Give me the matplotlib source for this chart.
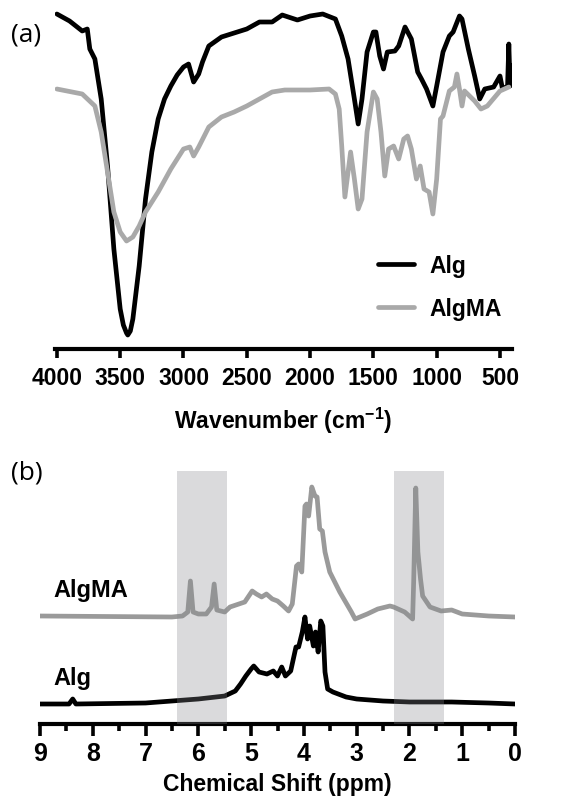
import matplotlib
matplotlib.use("Agg")
import matplotlib.pyplot as plt
import numpy as np

plt.rcParams['font.family'] = ['Liberation Sans', 'DejaVu Sans']
plt.rcParams['mathtext.fontset'] = 'custom'
plt.rcParams['mathtext.bf'] = 'Liberation Sans:bold'
plt.rcParams['mathtext.rm'] = 'Liberation Sans:bold'

# ---- (a) FTIR, transmittance in arbitrary units ----
wn_alg = [4000, 3900, 3800, 3760, 3740, 3700, 3650, 3600, 3550, 3500, 3475, 3450, 3440,
          3420, 3400, 3350, 3300, 3250, 3200, 3150, 3100, 3050, 3000, 2960, 2920, 2880,
          2850, 2800, 2700, 2500, 2400, 2300, 2220, 2100, 2000, 1900, 1800, 1750, 1700,
          1650, 1620, 1590, 1550, 1500, 1480, 1450, 1420, 1390, 1330, 1300, 1250, 1200,
          1150, 1120, 1080, 1030, 1000, 950, 900, 870, 820, 800, 750, 700, 660, 620,
          550, 500, 480, 440, 430, 420, 405]
t_alg = [335, 328, 318, 320, 300, 290, 250, 183, 100, 40, 24, 16, 14,
         18, 30, 83, 150, 197, 230, 250, 263, 274, 282, 285, 267, 275,
         287, 303, 312, 320, 327, 327, 334, 329, 333, 335, 330, 313, 290,
         250, 225, 250, 297, 317, 317, 293, 280, 297, 298, 303, 322, 310,
         277, 270, 260, 243, 263, 297, 313, 317, 333, 330, 300, 273, 250, 260,
         262, 273, 260, 263, 305, 263, 283]

wn_algma = [4000, 3800, 3700, 3650, 3600, 3550, 3500, 3450, 3400, 3350, 3300, 3200, 3100,
            3000, 2950, 2920, 2880, 2800, 2700, 2600, 2500, 2400, 2300, 2200, 2000, 1850,
            1800, 1770, 1750, 1725, 1700, 1680, 1650, 1620, 1590, 1550, 1500, 1470, 1440,
            1410, 1380, 1340, 1300, 1260, 1230, 1200, 1160, 1130, 1100, 1060, 1030, 1000,
            970, 950, 900, 860, 840, 820, 800, 780, 700, 650, 600, 500, 430]
t_algma = [260, 255, 243, 217, 177, 137, 117, 108, 112, 123, 137, 157, 180,
           200, 202, 193, 202, 222, 232, 237, 243, 250, 257, 259, 259, 260,
           255, 240, 203, 152, 177, 197, 170, 140, 150, 217, 257, 250, 217,
           173, 200, 203, 190, 210, 213, 200, 170, 183, 160, 157, 135, 170,
           230, 233, 258, 262, 275, 260, 243, 258, 248, 240, 243, 258, 262]

# ---- (b) 1H NMR, intensity in arbitrary units ----
ppm_algma = [9.0, 6.5, 6.3, 6.2, 6.15, 6.1, 6.0, 5.85, 5.75, 5.7, 5.65, 5.5, 5.4, 5.12,
             4.98, 4.9, 4.8, 4.71, 4.6, 4.5, 4.39, 4.29, 4.22, 4.14, 4.1, 4.04, 3.98,
             3.95, 3.91, 3.85, 3.79, 3.75, 3.70, 3.65, 3.6, 3.51, 3.32, 3.1, 3.03, 2.8,
             2.6, 2.37, 2.3, 2.09, 1.94, 1.92, 1.88, 1.84, 1.79, 1.75, 1.61, 1.4, 1.2,
             1.0, 0.5, 0.0]
i_algma = [106, 105, 106, 110, 141, 110, 108, 108, 115, 138, 112, 110, 115, 120,
           131, 128, 125, 128, 123, 121, 116, 111, 118, 156, 158, 150, 216,
           218, 206, 235, 226, 225, 193, 191, 170, 150, 130, 110, 103, 108,
           113, 116, 115, 110, 103, 140, 234, 170, 143, 126, 115, 111, 112,
           108, 106, 105]

ppm_alg = [9.0, 8.45, 8.38, 8.32, 7.0, 6.5, 6.0, 5.5, 5.3, 5.2, 5.1, 5.0, 4.95, 4.85,
           4.7, 4.58, 4.5, 4.42, 4.35, 4.25, 4.15, 4.1, 4.03, 3.98, 3.93, 3.89, 3.82,
           3.78, 3.73, 3.68, 3.64, 3.6, 3.55, 3.45, 3.2, 3.0, 2.5, 2.0, 1.5, 1.2, 0.5, 0.0]
i_alg = [18, 18, 23, 18, 19, 21, 23, 26, 31, 38, 46, 53, 56, 50,
         48, 51, 46, 55, 46, 51, 75, 75, 90, 105, 83, 96, 76,
         90, 70, 101, 96, 50, 33, 30, 25, 23, 21, 20, 20, 20, 19, 18]

highlight = [(6.4, 5.45), (2.3, 1.35)]

W, H = 577, 804
fig = plt.figure(figsize=(W / 100, H / 100), dpi=100)
LW = 3.4

# ---------------- panel (a) ----------------
ax1 = fig.add_axes([55 / W, 1 - 350 / H, 457 / W, 340 / H])
ax1.plot(wn_alg, t_alg, color='black', lw=LW, label='Alg',
         solid_joinstyle='round', solid_capstyle='round')
ax1.plot(wn_algma, t_algma, color='#a9a9a9', lw=LW, label='AlgMA',
         solid_joinstyle='round', solid_capstyle='round')
ax1.set_xlim(4015, 405)
ax1.set_ylim(0, 340)
for s in ['top', 'right', 'left']:
    ax1.spines[s].set_visible(False)
ax1.spines['bottom'].set_linewidth(3)
ax1.set_yticks([])
ax1.set_xticks([4000, 3500, 3000, 2500, 2000, 1500, 1000, 500])
ax1.tick_params(axis='x', direction='out', length=6.5, width=2.6, pad=6, labelsize=16.5)
for lab in ax1.get_xticklabels():
    lab.set_fontweight('bold')
ax1.set_xlabel('Wavenumber (cm$^{\\mathbf{-1}}$)', fontsize=16.5, fontweight='bold', labelpad=11)
leg = ax1.legend(loc='center left', bbox_to_anchor=(0.707, 0.182), frameon=False,
                 prop={'weight': 'bold', 'size': 16.5}, handlelength=1.55,
                 handletextpad=0.7, labelspacing=0.9, borderpad=0, borderaxespad=0)
fig.text(11 / W, 1 - 42 / H, '(a)', fontsize=19, family=['Open Sans', 'DejaVu Sans'])

# ---------------- panel (b) ----------------
ax2 = fig.add_axes([40 / W, 1 - 725 / H, 475 / W, 253 / H])
ax2.plot(ppm_algma, i_algma, color='#9a9a9a', lw=LW,
         solid_joinstyle='round', solid_capstyle='round')
ax2.plot(ppm_alg, i_alg, color='black', lw=LW,
         solid_joinstyle='round', solid_capstyle='round')
for lo, hi in highlight:
    ax2.axvspan(lo, hi, color='#85878c', alpha=0.3, lw=0, zorder=3)
ax2.set_xlim(9, 0)
ax2.set_ylim(-2, 251)
for s in ['top', 'right', 'left']:
    ax2.spines[s].set_visible(False)
ax2.spines['bottom'].set_linewidth(3)
ax2.set_yticks([])
ax2.set_xticks(np.arange(0, 10, 1))
ax2.set_xticks(np.arange(0.5, 9, 1), minor=True)
ax2.tick_params(axis='x', which='major', direction='out', length=8.6, width=2.6, pad=4, labelsize=18)
ax2.tick_params(axis='x', which='minor', direction='out', length=5, width=2.6)
for lab in ax2.get_xticklabels():
    lab.set_fontweight('bold')
ax2.set_xlabel('Chemical Shift (ppm)', fontsize=16.5, fontweight='bold', labelpad=5)
ax2.text(8.75, 126, 'AlgMA', fontsize=17, fontweight='bold', va='baseline')
ax2.text(8.75, 38, 'Alg', fontsize=17, fontweight='bold', va='baseline')
fig.text(11 / W, 1 - 480 / H, '(b)', fontsize=19, family=['Open Sans', 'DejaVu Sans'])

fig.savefig('out.png', dpi=100)
